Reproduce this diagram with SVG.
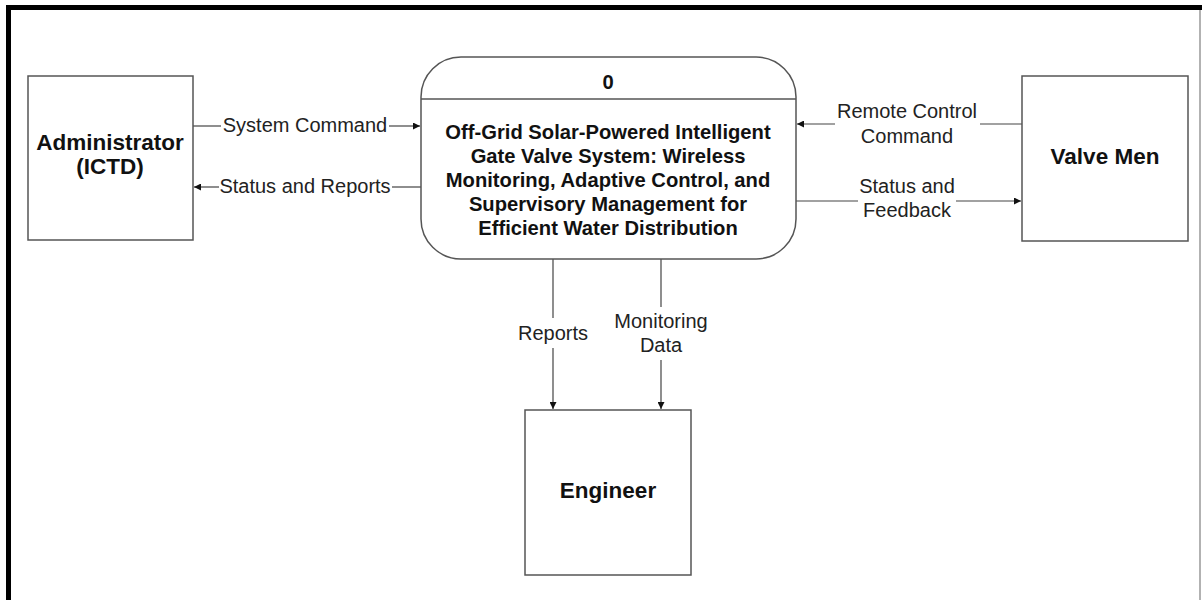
<svg xmlns="http://www.w3.org/2000/svg" width="1202" height="600" viewBox="0 0 1202 600">
<style>
.box{fill:#fff;stroke:#555;stroke-width:1.5}
.ent{font-family:"Liberation Sans",Arial,sans-serif;font-weight:bold;font-size:22.5px;fill:#111;text-anchor:middle}
.ttl{font-family:"Liberation Sans",Arial,sans-serif;font-weight:bold;font-size:20.2px;fill:#111;text-anchor:middle}
.lbl{font-family:"Liberation Sans",Arial,sans-serif;font-size:20px;fill:#222;text-anchor:middle}
.ln{stroke:#444;stroke-width:1.2;fill:none}
.ar{stroke:#444;stroke-width:1.2;fill:none;marker-end:url(#ah)}
</style>
<defs>
<marker id="ah" viewBox="0 0 10 10" refX="10" refY="5" markerWidth="9" markerHeight="7" markerUnits="userSpaceOnUse" orient="auto">
<path d="M0,0 L10,5 L0,10 z" fill="#111"/>
</marker>
</defs>
<rect x="0" y="0" width="1202" height="600" fill="#fff"/>
<g id="frame">
<rect x="6" y="5" width="1196" height="5" fill="#000"/>
<rect x="6" y="5" width="5" height="595" fill="#000"/>
<line x1="1200" y1="10" x2="1200" y2="600" stroke="#999" stroke-width="1.5"/>
</g>
<g id="connectors">
<line class="ln" x1="193" y1="126" x2="221" y2="126"/>
<line class="ar" x1="389" y1="126" x2="420" y2="126"/>
<line class="ln" x1="421" y1="187" x2="392" y2="187"/>
<line class="ar" x1="219" y1="187" x2="194" y2="187"/>
<line class="ln" x1="1022" y1="124" x2="980" y2="124"/>
<line class="ar" x1="835" y1="124" x2="797" y2="124"/>
<line class="ln" x1="796" y1="201" x2="858" y2="201"/>
<line class="ar" x1="956" y1="201" x2="1021" y2="201"/>
<line class="ln" x1="553" y1="259" x2="553" y2="318"/>
<line class="ar" x1="553" y1="348" x2="553" y2="409"/>
<line class="ln" x1="661" y1="259" x2="661" y2="307"/>
<line class="ar" x1="661" y1="360" x2="661" y2="409"/>
<text class="lbl" x="305" y="132">System Command</text>
<text class="lbl" x="305" y="193">Status and Reports</text>
<text class="lbl" x="907" y="118">Remote Control</text>
<text class="lbl" x="907" y="143">Command</text>
<text class="lbl" x="907" y="193">Status and</text>
<text class="lbl" x="907" y="217">Feedback</text>
<text class="lbl" x="553" y="340">Reports</text>
<text class="lbl" x="661" y="328">Monitoring</text>
<text class="lbl" x="661" y="352">Data</text>
</g>
<g id="admin">
<rect class="box" x="28" y="76" width="165" height="164"/>
<text class="ent" x="110" y="150">Administrator</text>
<text class="ent" x="110" y="174">(ICTD)</text>
</g>
<g id="process">
<rect class="box" x="421" y="57" width="375" height="202" rx="40" ry="40"/>
<line x1="421" y1="99" x2="796" y2="99" stroke="#555" stroke-width="1.5"/>
<text class="ttl" x="608" y="89">0</text>
<text class="ttl" x="608" y="139">Off-Grid Solar-Powered Intelligent</text>
<text class="ttl" x="608" y="163">Gate Valve System: Wireless</text>
<text class="ttl" x="608" y="187">Monitoring, Adaptive Control, and</text>
<text class="ttl" x="608" y="211">Supervisory Management for</text>
<text class="ttl" x="608" y="235">Efficient Water Distribution</text>
</g>
<g id="valvemen">
<rect class="box" x="1022" y="76" width="166" height="165"/>
<text class="ent" x="1105" y="164">Valve Men</text>
</g>
<g id="engineer">
<rect class="box" x="525" y="410" width="166" height="165"/>
<text class="ent" x="608" y="498">Engineer</text>
</g>
</svg>
